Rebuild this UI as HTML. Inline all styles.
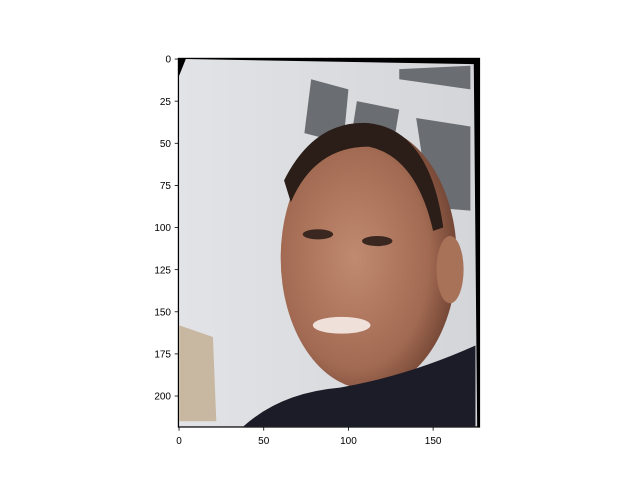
<!DOCTYPE html>
<html><head><meta charset="utf-8"><style>
body{margin:0;background:#fff;}
svg text{font-family:"Liberation Sans",sans-serif;font-size:10px;fill:#000;}
</style></head><body>
<svg id="chart" width="640" height="480" viewBox="0 0 640 480" xmlns="http://www.w3.org/2000/svg">
<rect width="640" height="480" fill="#fff"/>
<svg x="178.2" y="58.2" width="301.5" height="369" viewBox="-0.5 -0.5 178 219" preserveAspectRatio="none">
  <defs>
    <radialGradient id="skin" cx="0.42" cy="0.5" r="0.6"><stop offset="0" stop-color="#c08a70"/><stop offset="0.7" stop-color="#a26a52"/><stop offset="1" stop-color="#6e4232"/></radialGradient>
    <linearGradient id="bg" x1="0" y1="0" x2="1" y2="0"><stop offset="0" stop-color="#e2e3e6"/><stop offset="1" stop-color="#d3d5d9"/></linearGradient>
  </defs>
  <rect x="-0.5" y="-0.5" width="178" height="219" fill="#000"/>
  <polygon points="4,0 174,3 176,218 0,218 0,10" fill="url(#bg)"/>
  <polygon points="0,158 20,165 22,215 0,215" fill="#c8b8a2"/>
  <g fill="#6a6e72">
    <polygon points="78,12 100,18 97,50 74,44"/>
    <polygon points="105,25 130,30 127,48 102,44"/>
    <polygon points="140,35 172,40 172,90 148,88"/>
    <polygon points="130,6 172,4 172,18 130,12"/>
  </g>
  <ellipse cx="112" cy="118" rx="52" ry="78" fill="url(#skin)"/>
  <path d="M62,72 Q80,36 112,38 Q148,42 156,100 L150,102 Q140,58 112,52 Q80,52 66,85Z" fill="#2b1d18"/>
  <ellipse cx="160" cy="125" rx="8" ry="20" fill="#a87258"/>
  <ellipse cx="82" cy="104" rx="9" ry="3" fill="#3a2820"/>
  <ellipse cx="117" cy="108" rx="9" ry="3" fill="#3a2820"/>
  <ellipse cx="96" cy="158" rx="17" ry="5" fill="#f0e0da"/>
  <path d="M38,218 Q60,198 95,195 Q135,188 175,170 L175,218Z" fill="#1c1c28"/>
</svg>
<rect x="178.2" y="58.2" width="301.5" height="369" fill="none" stroke="#000" stroke-width="0.8"/>
<g id="xt"></g><g id="yt"></g>
</svg>
<script>
const xTicks=[0,50,100,150];
const yTicks=[0,25,50,75,100,125,150,175,200];
const x0=178.2, y0=58.2, s=301.5/178;
const X=v=>x0+(v+0.5)*s, Y=v=>y0+(v+0.5)*(369/219);
const ns="http://www.w3.org/2000/svg";
const xt=document.getElementById('xt'), yt=document.getElementById('yt');
xTicks.forEach(v=>{
  const l=document.createElementNS(ns,'line');
  
  
  l.setAttribute('x1',X(v));l.setAttribute('x2',X(v));l.setAttribute('y1',427.2);l.setAttribute('y2',430.7);l.setAttribute('stroke','#000');l.setAttribute('stroke-width','0.8');
  xt.appendChild(l);
  const t=document.createElementNS(ns,'text');
  
  
  t.setAttribute('x',X(v));t.setAttribute('y',444);t.setAttribute('text-anchor','middle');t.textContent=v;
  xt.appendChild(t);
});
yTicks.forEach(v=>{
  const l=document.createElementNS(ns,'line');
  
  
  l.setAttribute('x1',174.7);l.setAttribute('x2',178.2);l.setAttribute('y1',Y(v));l.setAttribute('y2',Y(v));l.setAttribute('stroke','#000');l.setAttribute('stroke-width','0.8');
  yt.appendChild(l);
  const t=document.createElementNS(ns,'text');
  
  
  t.setAttribute('x',171);t.setAttribute('y',Y(v)+3.6);t.setAttribute('text-anchor','end');t.textContent=v;
  yt.appendChild(t);
});
</script>
</body></html>
